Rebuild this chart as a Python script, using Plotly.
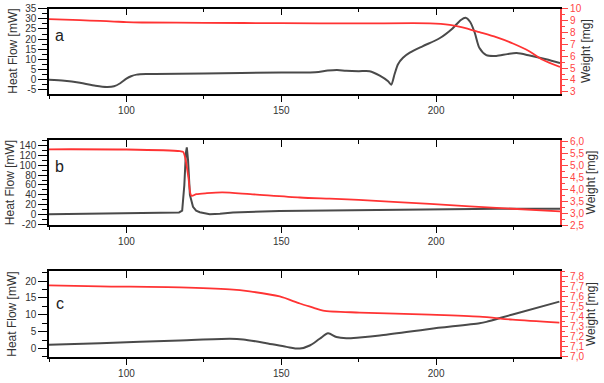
import plotly.graph_objects as go

# ---------------- data ----------------
temp_heat_a = [75, 80, 85, 90, 93.7, 96, 98, 100, 101.5, 103.3, 107, 125, 150, 161, 165, 168, 171, 175, 178.5,
               181.8, 184.5, 185.5, 186.6, 187.7, 189.3, 191.5, 195.6, 201.1, 205.3, 208, 209.5, 211, 212.5,
               214, 216.2, 219.4, 223, 226, 230.2, 235.5, 240]
heat_a = [-0.3, -0.8, -1.8, -3.2, -3.8, -3.5, -2.0, 0.3, 1.5, 2.3, 2.6, 2.8, 3.4, 3.5, 4.3, 4.6, 4.2, 4.0, 4.0,
          1.8, -1.0, -2.7, 2.6, 7.5, 10.7, 13.2, 16.4, 20.4, 25.3, 29.5, 30.6, 28.5, 23, 15.5, 12, 11.6, 12.5,
          13.0, 11.8, 9.9, 8.0]
temp_weight_a = [75, 80, 85, 91.5, 96, 100, 105, 125, 150, 175, 198, 204.4, 208.5, 214, 219.4, 224.8, 230.2, 234.4, 240]
weight_a = [9.13, 9.08, 9.03, 8.97, 8.92, 8.87, 8.84, 8.81, 8.78, 8.76, 8.77, 8.64, 8.43, 8.02, 7.6, 7.07, 6.4, 5.7, 5.09]

temp_heat_b = [75, 90, 110, 117, 118, 118.7, 119.2, 119.5, 119.9, 120.5, 121.5, 122.5, 123.7, 126.9, 130.2,
               134.4, 149.5, 175, 200, 220, 240]
heat_b = [1.0, 2.5, 3.0, 4.5, 8, 60, 125, 136, 110, 40, 16, 8, 4.9, 1.0, 2, 4.5, 7.5, 9.5, 11, 12, 12]
temp_weight_b = [75, 100, 117.3, 118.3, 119, 120, 121, 122.6, 126, 131, 140, 156, 165.6, 175, 198, 224.7, 240]
weight_b = [5.66, 5.65, 5.58, 5.55, 5.3, 4.5, 3.72, 3.79, 3.83, 3.86, 3.79, 3.65, 3.6, 3.55, 3.38, 3.18, 3.07]

temp_heat_c = [75, 91.5, 117.3, 133.4, 137.7, 145.2, 151.7, 156, 159.2, 162.4, 165.1, 167.8, 171, 175.3,
               181.8, 197.9, 214, 216.2, 224.7, 239.8]
heat_c = [1.15, 1.6, 2.4, 2.9, 2.7, 1.6, 0.5, 0.0, 0.9, 2.9, 4.5, 3.4, 3.06, 3.3, 3.84, 5.8, 7.5, 7.9, 10.1, 13.9]
temp_weight_c = [75, 91.5, 117.3, 133.4, 139.8, 149.5, 156, 160.3, 163.5, 175.3, 197.9, 214, 224.7, 239.8]
weight_c = [7.71, 7.70, 7.69, 7.67, 7.65, 7.60, 7.53, 7.49, 7.46, 7.44, 7.42, 7.40, 7.37, 7.34]

x_ticks = [100, 150, 200]
heat_ticks_a = [-5, 0, 5, 10, 15, 20, 25, 30, 35]
heat_ticks_b = [-20, 0, 20, 40, 60, 80, 100, 120, 140]
heat_ticks_c = [0, 5, 10, 15, 20]
panel_labels = ["a", "b", "c"]

# ---------------- style ----------------
BLACK = "#4a4a4a"
RED = "#ff3333"
AXRED = "#ff4444"
FONT = "Liberation Sans, Arial, sans-serif"
XR = [75, 240]

fig = go.Figure()

panels = [
    dict(hx=temp_heat_a, hy=heat_a, wx=temp_weight_a, wy=weight_a, x="x", top="x4", yl="y", yr="y2"),
    dict(hx=temp_heat_b, hy=heat_b, wx=temp_weight_b, wy=weight_b, x="x2", top="x5", yl="y3", yr="y4"),
    dict(hx=temp_heat_c, hy=heat_c, wx=temp_weight_c, wy=weight_c, x="x3", top="x6", yl="y5", yr="y6"),
]
for i, p in enumerate(panels):
    fig.add_trace(go.Scatter(x=p["hx"], y=p["hy"], xaxis=p["x"], yaxis=p["yl"], mode="lines",
                             line=dict(color=BLACK, width=2,
                                       shape="linear" if i == 1 else "spline", smoothing=0.8),
                             showlegend=False, hoverinfo="skip"))
    fig.add_trace(go.Scatter(x=p["wx"], y=p["wy"], xaxis=p["x"], yaxis=p["yr"], mode="lines",
                             line=dict(color=RED, width=1.8, shape="spline", smoothing=0.8),
                             showlegend=False, hoverinfo="skip"))
    # dummy trace so the top frame axis is drawn
    fig.add_trace(go.Scatter(x=[None], y=[None], xaxis=p["top"], yaxis=p["yl"], mode="lines",
                             showlegend=False, hoverinfo="skip"))

domains = [[0.755, 0.998], [0.378, 0.622], [0.0, 0.2458]]
yl_ranges = [[-7.1, 35.1], [-21, 151], [-2.5, 22.9]]
yr_ranges = [[2.86, 10.0], [2.5, 6.05], [7.0, 7.85]]
yl_ticks = [heat_ticks_a, heat_ticks_b, heat_ticks_c]
yl_minor = [2.5, 10, 2.5]
yr_dtick = [1, 0.5, 0.1]
yr_minor = [0.5, 0.25, 0.05]
yr_fmt = ["d", ".1f", ".1f"]
yl_standoff = [5, 2, 6]

layout = dict(
    width=604, height=383,
    margin=dict(l=49, r=44, t=4, b=21),
    paper_bgcolor="white", plot_bgcolor="white",
    separators=",.",
    font=dict(family=FONT, size=10, color="#333333"),
)

xnames = ["xaxis", "xaxis2", "xaxis3"]
topnames = ["xaxis4", "xaxis5", "xaxis6"]
ylnames = ["yaxis", "yaxis3", "yaxis5"]
yrnames = ["yaxis2", "yaxis4", "yaxis6"]
ylids = ["y", "y3", "y5"]
xids = ["x", "x2", "x3"]

for i in range(3):
    layout[xnames[i]] = dict(
        domain=[0, 1], anchor=ylids[i], range=XR, tickmode="array", tickvals=x_ticks,
        ticks="outside", ticklen=6, tickwidth=1.2, tickcolor="black",
        minor=dict(dtick=25, tick0=0, ticks="outside", ticklen=3, tickwidth=1.2, tickcolor="black"),
        showline=True, linecolor="black", linewidth=2.2, showgrid=False, zeroline=False,
        tickfont=dict(size=10, color="#333333"),
    )
    layout[topnames[i]] = dict(
        overlaying=xids[i], anchor=ylids[i], side="top", range=XR, tickmode="array", tickvals=x_ticks,
        ticks="inside", ticklen=7, tickwidth=1.2, tickcolor="black",
        minor=dict(dtick=25, tick0=0, ticks="inside", ticklen=4, tickwidth=1.2, tickcolor="black"),
        showticklabels=False, showline=True, linecolor="black", linewidth=1.5,
        showgrid=False, zeroline=False,
    )
    layout[ylnames[i]] = dict(
        domain=domains[i], anchor=xids[i], range=yl_ranges[i],
        tickmode="array", tickvals=yl_ticks[i], ticktext=[str(v) for v in yl_ticks[i]],
        ticks="outside", ticklen=9, tickwidth=1.2, tickcolor="black",
        minor=dict(dtick=yl_minor[i], tick0=0, ticks="outside", ticklen=5, tickwidth=1.2, tickcolor="black"),
        showline=True, linecolor="black", linewidth=1.5, showgrid=False, zeroline=False,
        tickfont=dict(size=10, color="#333333"),
        title=dict(text="Heat Flow [mW]", font=dict(size=12, color="#333333"), standoff=yl_standoff[i]),
    )
    layout[yrnames[i]] = dict(
        overlaying=ylids[i], anchor=xids[i], side="right", range=yr_ranges[i],
        tickmode="linear", tick0=0, dtick=yr_dtick[i], tickformat=yr_fmt[i],
        ticks="outside", ticklen=6, tickwidth=1.2, tickcolor=AXRED,
        minor=dict(dtick=yr_minor[i], tick0=0, ticks="outside", ticklen=3, tickwidth=1.2, tickcolor=AXRED),
        showline=True, linecolor=AXRED, linewidth=2.2, showgrid=False, zeroline=False,
        tickfont=dict(size=10, color=AXRED),
        title=dict(text="Weight [mg]", font=dict(size=12, color="#333333"), standoff=1),
    )

fig.update_layout(**layout)

label_y = [0.686, 0.683, 0.625]
for i in range(3):
    fig.add_annotation(text=panel_labels[i], xref=f"{xids[i]} domain", yref=f"{ylids[i]} domain",
                       x=0.0215, y=label_y[i], showarrow=False, xanchor="center", yanchor="middle",
                       font=dict(size=16, color="#222222", family=FONT))

fig.write_html("out.html")
